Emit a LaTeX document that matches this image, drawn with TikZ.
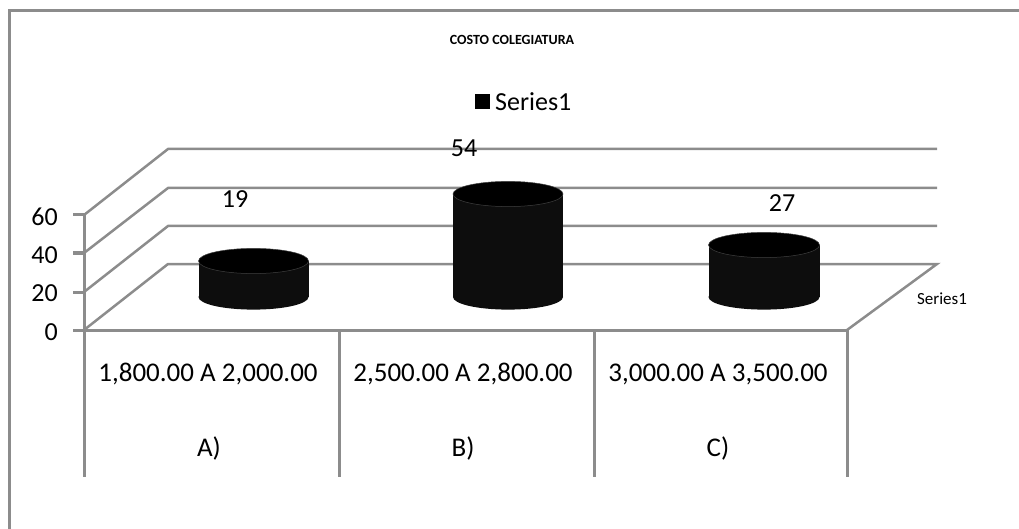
\documentclass[tikz,border=0pt]{standalone}
\usepackage{fontspec}
\setmainfont{Carlito}
\usetikzlibrary{positioning}
\definecolor{chartgray}{RGB}{140,140,140}

\begin{document}
\begin{tikzpicture}[x=1pt,y=-1pt,
		grid/.style={draw=chartgray,line width=2.5pt},
		axisline/.style={draw=chartgray,line width=3pt},
		barside/.style={fill=black!95},
		bartop/.style={fill=black,draw=black!75,line width=.5pt},
		lbl/.style={font=\fontsize{26}{30}\selectfont,inner sep=0pt}]
		\useasboundingbox (0,0) rectangle (1019,529);
		% frame of the chart area
		\draw[axisline] (9,529) -- (9,11) -- (1019,11);
		\node[font=\bfseries\fontsize{14}{16}\selectfont] (title) at (512,40) {COSTO COLEGIATURA};
		\node[lbl,anchor=west] (legend) at (495,102) {Series1};
		\node[fill=black,minimum size=15pt,inner sep=0pt,left=5pt of legend] (key) {};
		% walls and floor
		\draw[grid] (84,215) -- (168,149) -- (937,149);
		\draw[grid] (84,253) -- (168,188) -- (937,188);
		\draw[grid] (84,292) -- (168,226) -- (937,226);
		\draw[grid] (84,330) -- (168,264) -- (937,264) -- (847,330);
		\draw[axisline] (73,215) -- (84,215) (73,253) -- (84,253) (73,292) -- (84,292) (73,330) -- (84,330);
		\draw[axisline] (84,215) -- (84,477);
		\draw[axisline] (84,330) -- (847,330);
		\draw[axisline] (339,330) -- (339,477) (594,330) -- (594,477) (847,330) -- (847,477);
		\node[lbl,anchor=east] (y60) at (58,217) {60};
		\node[lbl,anchor=east] (y40) at (58,255) {40};
		\node[lbl,anchor=east] (y20) at (58,293) {20};
		\node[lbl,anchor=east] (y0) at (58,332) {0};
		% cylinders
		\fill[barside] (198.5,261) rectangle (308.5,297);
		\fill[barside] (253.5,297) ellipse [x radius=55,y radius=12.6];
		\filldraw[bartop] (253.5,261) ellipse [x radius=55,y radius=12.6];
		\fill[barside] (453,194) rectangle (563,297);
		\fill[barside] (508,297) ellipse [x radius=55,y radius=12.6];
		\filldraw[bartop] (508,194) ellipse [x radius=55,y radius=12.6];
		\fill[barside] (708.5,245) rectangle (819.5,297);
		\fill[barside] (764,297) ellipse [x radius=55.5,y radius=12.6];
		\filldraw[bartop] (764,245) ellipse [x radius=55.5,y radius=12.6];
		\node[lbl] (valA) at (235,199) {19};
		\node[lbl] (valB) at (464,148) {54};
		\node[lbl] (valC) at (782,203) {27};
		\node[font=\fontsize{17}{20}\selectfont,inner sep=0pt] (depth) at (942,299) {Series1};
		% category labels
		\node[lbl,font=\fontsize{27}{30}\selectfont] (rangeA) at (208,374) {1,800.00 A 2,000.00};
		\node[lbl,font=\fontsize{27}{30}\selectfont] (rangeB) at (463,374) {2,500.00 A 2,800.00};
		\node[lbl,font=\fontsize{27}{30}\selectfont] (rangeC) at (718,374) {3,000.00 A 3,500.00};
		\node[lbl,font=\fontsize{27}{30}\selectfont] (catA) at (209,448) {A)};
		\node[lbl,font=\fontsize{27}{30}\selectfont] (catB) at (463,448) {B)};
		\node[lbl,font=\fontsize{27}{30}\selectfont] (catC) at (718,448) {C)};
	\end{tikzpicture}
\end{document}
